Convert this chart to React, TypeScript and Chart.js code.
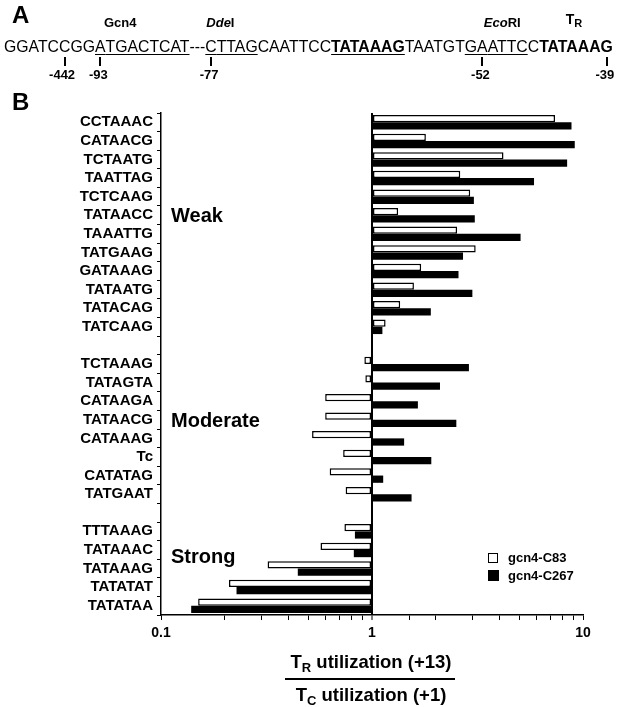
import React, { useEffect, useRef } from 'react';
import { Chart, registerables } from 'chart.js';

Chart.register(...registerables);

// ---- data ----
const categories = [
  'CCTAAAC', 'CATAACG', 'TCTAATG', 'TAATTAG', 'TCTCAAG', 'TATAACC', 'TAAATTG', 'TATGAAG',
  'GATAAAG', 'TATAATG', 'TATACAG', 'TATCAAG', '',
  'TCTAAAG', 'TATAGTA', 'CATAAGA', 'TATAACG', 'CATAAAG', 'Tc', 'CATATAG', 'TATGAAT', '',
  'TTTAAAG', 'TATAAAC', 'TATAAAG', 'TATATAT', 'TATATAA',
];
const c83Values = [
  7.37, 1.8, 4.2, 2.62, 2.92, 1.33, 2.53, 3.1, 1.71, 1.58, 1.36, 1.16, null,
  0.92, 0.93, 0.6, 0.6, 0.52, 0.73, 0.63, 0.75, null,
  0.74, 0.57, 0.32, 0.21, 0.15,
];
const c267Values = [
  8.82, 9.14, 8.41, 5.86, 3.04, 3.07, 5.06, 2.7, 2.57, 2.99, 1.9, 1.12, null,
  2.88, 2.1, 1.65, 2.51, 1.42, 1.91, 1.13, 1.54, null,
  0.83, 0.82, 0.445, 0.228, 0.139,
];
const seriesNames = ['gcn4-C83', 'gcn4-C267'];
const xTickLabels = ['0.1', '1', '10'];
const groupLabels = ['Weak', 'Moderate', 'Strong'];

const W = 618;
const H = 707;
const CHART_TOP = 113;
const CHART_BOTTOM = 615;
const CHART_LEFT = 161;
const CHART_RIGHT = 583;
const X_AXIS_H = 40;

const FONT = "'Liberation Sans', Arial, Helvetica, sans-serif";

const isPow10 = (v: number) => {
  const l = Math.log10(v);
  return Math.abs(l - Math.round(l)) < 1e-9;
};

const Tick = ({ ch, label }: { ch: string; label: string }) => (
  <span style={{ position: 'relative' }}>
    {ch}
    <span
      style={{
        position: 'absolute', left: '50%', top: 19, width: 2, height: 9,
        marginLeft: -1, background: '#000',
      }}
    />
    <span
      style={{
        position: 'absolute', left: '50%', top: 30, transform: 'translateX(-60%)',
        fontSize: 13, fontWeight: 'bold', lineHeight: '14px', whiteSpace: 'nowrap',
      }}
    >
      {label}
    </span>
  </span>
);

const Annot = ({
  above, children, offset = 0, center = true,
}: { above: React.ReactNode; children: React.ReactNode; offset?: number; center?: boolean }) => (
  <span style={{ position: 'relative' }}>
    {children}
    <span
      style={{
        position: 'absolute', left: center ? `calc(50% + ${offset}px)` : offset, bottom: 25,
        transform: center ? 'translateX(-50%)' : 'none',
        fontSize: 13, fontWeight: 'bold', lineHeight: '14px', whiteSpace: 'nowrap',
      }}
    >
      {above}
    </span>
  </span>
);

const U = ({ children }: { children: React.ReactNode }) => (
  <span style={{ textDecoration: 'underline', textDecorationThickness: '1px', textUnderlineOffset: '2px' }}>
    {children}
  </span>
);

export default function App() {
  const ref = useRef<HTMLCanvasElement>(null);

  useEffect(() => {
    const canvas = ref.current;
    if (!canvas) return;
    const chart = new Chart(canvas, {
      type: 'bar',
      data: {
        labels: categories,
        datasets: [
          {
            label: seriesNames[0],
            data: c83Values as any,
            backgroundColor: '#ffffff',
            borderColor: '#000000',
            borderWidth: 1.5,
            borderSkipped: false,
            base: 1,
          } as any,
          {
            label: seriesNames[1],
            data: c267Values as any,
            backgroundColor: '#000000',
            borderColor: '#000000',
            borderWidth: 0,
            base: 1,
          } as any,
        ],
      },
      options: {
        indexAxis: 'y',
        responsive: false,
        maintainAspectRatio: false,
        animation: false,
        datasets: { bar: { categoryPercentage: 0.78, barPercentage: 1 } } as any,
        layout: {
          padding: {
            top: CHART_TOP,
            right: W - CHART_RIGHT,
            bottom: H - CHART_BOTTOM - X_AXIS_H,
            left: 0,
          },
        },
        plugins: { legend: { display: false }, tooltip: { enabled: false } },
        scales: {
          x: {
            type: 'logarithmic',
            min: 0.1,
            max: 10,
            position: 'bottom',
            afterFit: (s: any) => {
              s.height = X_AXIS_H;
            },
            border: { display: true, color: '#000', width: 1.5 },
            grid: {
              drawOnChartArea: true,
              color: (ctx: any) =>
                ctx.tick && Math.abs(ctx.tick.value - 1) < 1e-9 ? '#000' : 'rgba(0,0,0,0)',
              lineWidth: (ctx: any) => (ctx.tick && Math.abs(ctx.tick.value - 1) < 1e-9 ? 2 : 1),
              tickColor: '#000',
              tickLength: 5,
              tickWidth: 1,
            } as any,
            ticks: {
              autoSkip: false,
              maxRotation: 0,
              padding: 5,
              color: '#000',
              font: { family: FONT, weight: 'bold', size: 14 },
              callback: (v: any) => {
                const n = Number(v);
                if (!isPow10(n)) return '';
                return xTickLabels[Math.round(Math.log10(n)) + 1] ?? '';
              },
            },
          },
          y: {
            type: 'category',
            afterFit: (s: any) => {
              s.width = CHART_LEFT;
            },
            border: { display: true, color: '#000', width: 1.5 },
            grid: {
              drawOnChartArea: false,
              color: '#000',
              tickLength: 4,
              offset: true,
            },
            ticks: {
              autoSkip: false,
              padding: 4,
              color: '#000',
              font: { family: FONT, weight: 'bold', size: 15 },
            },
          },
        },
      },
    });
    return () => chart.destroy();
  }, []);

  const groupCenters = [215, 420, 556];

  return (
    <div
      style={{
        position: 'absolute', left: 0, top: 0, width: W, height: H, overflow: 'hidden',
        background: '#fff', color: '#000', fontFamily: FONT,
      }}
    >
      <canvas ref={ref} width={W} height={H} style={{ position: 'absolute', left: 0, top: 0 }} />

      {/* Panel A */}
      <div style={{ position: 'absolute', left: 12, top: 3, fontSize: 24, fontWeight: 'bold', lineHeight: '24px' }}>A</div>
      <div
        style={{
          position: 'absolute', left: 4, top: 38, fontSize: 15.8, lineHeight: '18px', whiteSpace: 'nowrap',
        }}
      >
        GGATC<Tick ch="C" label="-442" />GG
        <Annot above="Gcn4" center={false} offset={9}>
          <U><Tick ch="A" label="-93" />TGACTCAT</U>
        </Annot>
        ---
        <Annot above={<span><i>Dde</i>I</span>} center={false} offset={1}>
          <U><Tick ch="C" label="-77" />TTAG</U>
        </Annot>
        CAATTCC
        <b><U>TATAAAG</U></b>
        TAATGT
        <Annot above={<span><i>Eco</i>RI</span>} offset={6}>
          <U>G<Tick ch="A" label="-52" />ATTC</U>
        </Annot>
        C
        <Annot above={<span style={{ fontSize: 14 }}>T<sub style={{ fontSize: 11, verticalAlign: '-3px' }}>R</sub></span>} offset={-2}>
          <b>TATAAA<Tick ch="G" label="-39" /></b>
        </Annot>
      </div>

      {/* Panel B */}
      <div style={{ position: 'absolute', left: 12, top: 90, fontSize: 24, fontWeight: 'bold', lineHeight: '24px' }}>B</div>

      {groupLabels.map((g, i) => (
        <div
          key={g}
          style={{
            position: 'absolute', left: 171, top: groupCenters[i] - 11, fontSize: 20,
            fontWeight: 'bold', lineHeight: '22px',
          }}
        >
          {g}
        </div>
      ))}

      {/* Legend */}
      <div style={{ position: 'absolute', left: 488, top: 553, width: 8, height: 8, border: '1.5px solid #000', background: '#fff' }} />
      <div style={{ position: 'absolute', left: 508, top: 550, fontSize: 13, fontWeight: 'bold', lineHeight: '16px' }}>{seriesNames[0]}</div>
      <div style={{ position: 'absolute', left: 488, top: 570, width: 11, height: 11, background: '#000' }} />
      <div style={{ position: 'absolute', left: 508, top: 568, fontSize: 13, fontWeight: 'bold', lineHeight: '16px' }}>{seriesNames[1]}</div>

      {/* Axis title as a fraction */}
      <div style={{ position: 'absolute', left: 221, width: 300, top: 651, textAlign: 'center', fontSize: 18.5, fontWeight: 'bold', lineHeight: '22px' }}>
        T<sub style={{ fontSize: 13, verticalAlign: '-4px' }}>R</sub> utilization (+13)
      </div>
      <div style={{ position: 'absolute', left: 285, top: 678, width: 170, height: 2, background: '#000' }} />
      <div style={{ position: 'absolute', left: 221, width: 300, top: 684, textAlign: 'center', fontSize: 18.5, fontWeight: 'bold', lineHeight: '22px' }}>
        T<sub style={{ fontSize: 13, verticalAlign: '-4px' }}>C</sub> utilization (+1)
      </div>
    </div>
  );
}
